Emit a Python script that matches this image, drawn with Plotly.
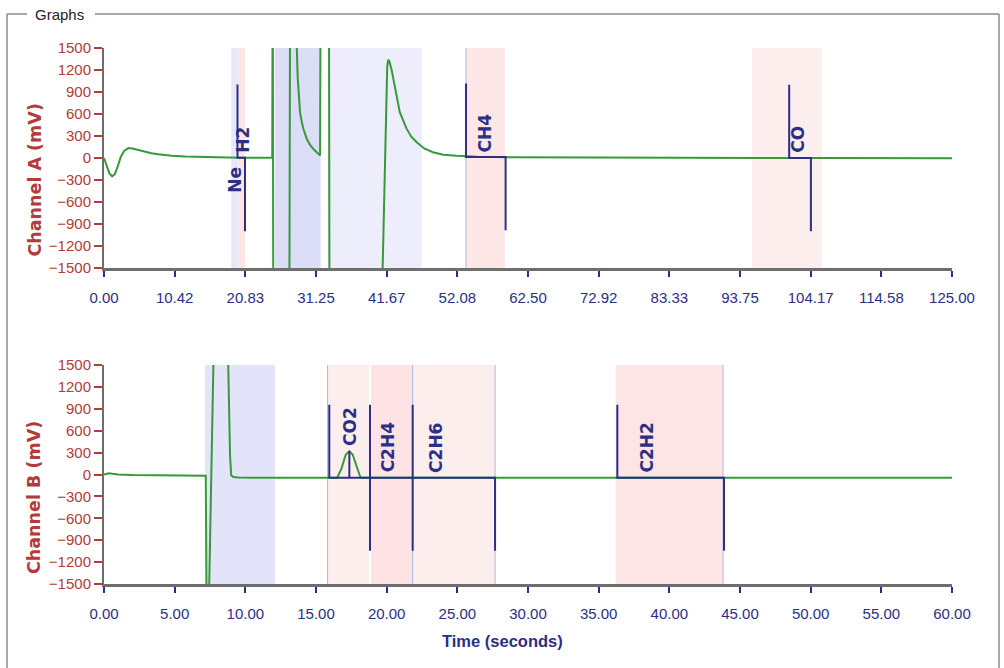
import plotly.graph_objects as go

W, H = 1004, 668

# ---------------- data ----------------
# Channel A detector signal (seconds, mV); +/-3000 = off-scale (clipped)
a_time = [0, 0.4, 0.8, 1.2, 1.6, 2.0, 2.5, 3.0, 3.6, 4.2, 5.0, 6.0, 7.0, 8.0, 9.0, 10.0,
          12.0, 14.0, 16.0, 18.0, 20.0, 22.0, 24.8, 24.87, 24.97, 27.3, 27.45, 28.35,
          28.42, 28.55, 28.7, 28.9, 29.15, 29.4, 29.9, 30.4, 30.9, 31.4, 31.85, 31.95,
          33.15, 33.25, 41.0, 41.05, 41.75, 41.9, 42.05, 42.4, 42.9, 43.6, 44.6, 45.3,
          46.1, 47.2, 48.5, 50.0, 52.0, 55.0, 60.0, 70.0, 85.0, 105.0, 125.0]
a_mv = [0, -100, -210, -250, -220, -120, 20, 100, 135, 130, 110, 85, 65, 50, 40, 32,
        22, 15, 10, 6, 4, 2, 2, 3000, -3000, -3000, 3000, 3000,
        1500, 1100, 850, 623, 490, 396, 259, 175, 118, 70, 35, 3000,
        3000, -3000, -3000, -1600, 1250, 1340, 1320, 1200, 940, 625, 400, 290,
        215, 130, 78, 45, 30, 18, 10, 5, 2, 0, -2]

# Channel B detector signal (seconds, mV)
b_time = [0, 0.15, 0.35, 0.6, 1.0, 2.0, 3.5, 5.0, 6.5, 7.2, 7.3, 7.45, 7.75, 8.78,
          8.85, 8.92, 9.0, 9.15, 9.5, 10.5, 16.5, 16.8, 17.1, 17.36, 17.6, 17.9, 18.15,
          30.0, 45.0, 60.0]
b_mv = [0, 12, 18, 10, 0, -8, -12, -15, -17, -18, -3000, -1600, 1600, 1600,
        900, 250, -10, -35, -42, -45, -45, 80, 270, 320, 270, 80, -45,
        -45, -45, -45]

# Peak tables
a_peak_names = ["Ne", "H2", "CH4", "CO"]
a_peak_start = [None, 19.68, 53.36, 101.0]
a_peak_end = [None, 20.78, 59.2, 104.2]
a_peak_rt = [19.3, 20.49, 56.16, 102.2]
a_peak_base = [2, 2, 15, 0]
a_peak_top = [2, 2, 15, 0]
a_label_side = ["below", "above", "above", "above"]

b_peak_names = ["CO2", "C2H4", "C2H6", "C2H2"]
b_peak_start = [15.94, 18.82, 21.84, 36.32]
b_peak_end = [18.82, 21.84, 27.67, 43.87]
b_peak_rt = [17.36, 20.1, 23.5, 38.4]
b_peak_base = [-45, -45, -45, -45]
b_peak_top = [320, -45, -45, -45]
b_label_side = ["above", "above", "above", "above"]

# Shaded windows (start, end, fill)
a_band_start = [18.75, 19.7, 25.2, 33.0, 53.36, 95.56]
a_band_end = [19.7, 20.8, 31.94, 46.83, 59.1, 105.8]
a_band_color = ["#e6e7fa", "#fde6e6", "#dcddf6", "#ededfc", "#fde6e6", "#fdeeee"]
a_edge_lines = [53.36]

b_band_start = [7.15, 15.82, 18.9, 21.84, 36.2]
b_band_end = [12.1, 18.75, 21.84, 27.67, 43.8]
b_band_color = ["#e3e4f9", "#fdeeee", "#fde3e3", "#fdeeee", "#fde5e5"]
b_edge_lines = [15.82, 21.84, 27.67, 43.8]

# Axis ticks
a_tick_vals = [0, 125/12, 250/12, 375/12, 500/12, 625/12, 750/12, 875/12, 1000/12,
               1125/12, 1250/12, 1375/12, 125]
a_tick_text = ["0.00", "10.42", "20.83", "31.25", "41.67", "52.08", "62.50", "72.92",
               "83.33", "93.75", "104.17", "114.58", "125.00"]
b_tick_vals = [0, 5, 10, 15, 20, 25, 30, 35, 40, 45, 50, 55, 60]
b_tick_text = ["0.00", "5.00", "10.00", "15.00", "20.00", "25.00", "30.00", "35.00",
               "40.00", "45.00", "50.00", "55.00", "60.00"]
mv_ticks = [-1500, -1200, -900, -600, -300, 0, 300, 600, 900, 1200, 1500]

# ---------------- styling ----------------
GREEN = "#37993a"
NAVY = "#2b2f86"
RED = "#b23b3b"
AXIS = "#6e6e6e"
LAV = "#b4b4de"
ARIAL = "Liberation Sans, Arial, sans-serif"
WIDE = "DejaVu Sans, Verdana, sans-serif"
TICK_AMP = 1000


def px(x):
    return x / W


def py(y):
    return 1 - y / H


fig = go.Figure()

# signal traces
fig.add_trace(go.Scatter(x=a_time, y=a_mv, mode="lines", line=dict(color=GREEN, width=2),
                         xaxis="x", yaxis="y", hoverinfo="skip"))
fig.add_trace(go.Scatter(x=b_time, y=b_mv, mode="lines", line=dict(color=GREEN, width=2),
                         xaxis="x2", yaxis="y2", hoverinfo="skip"))


def peak_marks(starts, ends, rts, bases, tops):
    xs, ys = [], []
    for s, e, rt, b, t in zip(starts, ends, rts, bases, tops):
        if s is None:
            continue
        xs += [s, s, e, e, None]
        ys += [b + TICK_AMP, b, b, b - TICK_AMP, None]
        if t != b:
            xs += [rt, rt, None]
            ys += [b, t, None]
    return xs, ys


ax, ay = peak_marks(a_peak_start, a_peak_end, a_peak_rt, a_peak_base, a_peak_top)
bx, by = peak_marks(b_peak_start, b_peak_end, b_peak_rt, b_peak_base, b_peak_top)
fig.add_trace(go.Scatter(x=ax, y=ay, mode="lines", line=dict(color=NAVY, width=2),
                         xaxis="x", yaxis="y", hoverinfo="skip"))
fig.add_trace(go.Scatter(x=bx, y=by, mode="lines", line=dict(color=NAVY, width=2),
                         xaxis="x2", yaxis="y2", hoverinfo="skip"))

shapes = []
for xr, yr, st, en, col, edges in [("x", "y domain", a_band_start, a_band_end, a_band_color, a_edge_lines),
                                   ("x2", "y2 domain", b_band_start, b_band_end, b_band_color, b_edge_lines)]:
    for s, e, c in zip(st, en, col):
        shapes.append(dict(type="rect", xref=xr, yref=yr, x0=s, x1=e, y0=0, y1=1,
                           fillcolor=c, line=dict(width=0), layer="below"))
    for s in edges:
        shapes.append(dict(type="line", xref=xr, yref=yr, x0=s, x1=s, y0=0, y1=1,
                           line=dict(color=LAV, width=1), layer="below"))

# "Graphs" group-box frame
FRAME = "#8a8a8a"
for (x0, y0, x1, y1) in [(7, 14, 27, 14), (95, 14, 999, 14), (7, 14, 7, 668), (999, 14, 999, 668)]:
    shapes.append(dict(type="line", xref="paper", yref="paper", x0=px(x0), y0=py(y0),
                       x1=px(x1), y1=py(y1), line=dict(color=FRAME, width=1.5)))

annotations = []
for names, rts, tops, sides, xr, yr in [
        (a_peak_names, a_peak_rt, a_peak_top, a_label_side, "x", "y"),
        (b_peak_names, b_peak_rt, b_peak_top, b_label_side, "x2", "y2")]:
    for n, rt, t, side in zip(names, rts, tops, sides):
        annotations.append(dict(text=n, x=rt, y=t, xref=xr, yref=yr, textangle=-90,
                                showarrow=False, xanchor="center",
                                yanchor="bottom" if side == "above" else "top",
                                yshift=3 if side == "above" else -7,
                                font=dict(family=WIDE, size=17, color=NAVY, weight="bold")))

annotations += [
    dict(text="Channel A (mV)", x=px(34), y=py(180.5), xref="paper", yref="paper",
         textangle=-90, showarrow=False, xanchor="center", yanchor="middle",
         font=dict(family=WIDE, size=17.5, color=RED, weight="bold")),
    dict(text="Channel B (mV)", x=px(34), y=py(498), xref="paper", yref="paper",
         textangle=-90, showarrow=False, xanchor="center", yanchor="middle",
         font=dict(family=WIDE, size=17.5, color=RED, weight="bold")),
    dict(text="Time (seconds)", x=px(502), y=py(641), xref="paper", yref="paper",
         showarrow=False, xanchor="center", yanchor="middle",
         font=dict(family=ARIAL, size=16.5, color=NAVY, weight="bold")),
    dict(text="Graphs", x=px(33), y=py(14), xref="paper", yref="paper",
         showarrow=False, xanchor="left", yanchor="middle",
         font=dict(family=ARIAL, size=15, color="#222222")),
]


def xaxis_style(vals, text, rng, anchor):
    return dict(domain=[px(104), px(952)], range=rng, anchor=anchor, tickmode="array",
                tickvals=vals, ticktext=text, ticks="outside", ticklen=6, tickwidth=2,
                tickcolor=NAVY, tickfont=dict(family=ARIAL, size=15, color=NAVY),
                showline=True, linecolor=AXIS, linewidth=3, showgrid=False,
                zeroline=False, ticklabelstandoff=8, fixedrange=True, automargin=False)


def yaxis_style(dom, anchor):
    return dict(domain=dom, range=[-1500, 1500], anchor=anchor, tickmode="array",
                tickvals=mv_ticks, ticks="outside", ticklen=8, tickwidth=2,
                tickcolor=RED, tickfont=dict(family=ARIAL, size=15, color=RED),
                showline=True, linecolor=AXIS, linewidth=2, showgrid=False,
                zeroline=False, fixedrange=True, automargin=False)


fig.update_layout(
    width=W, height=H, margin=dict(l=0, r=0, t=0, b=0, autoexpand=False),
    paper_bgcolor="white", plot_bgcolor="white", showlegend=False,
    xaxis=xaxis_style(a_tick_vals, a_tick_text, [0, 125], "y"),
    yaxis=yaxis_style([py(268), py(48)], "x"),
    xaxis2=xaxis_style(b_tick_vals, b_tick_text, [0, 60], "y2"),
    yaxis2=yaxis_style([py(584), py(365)], "x2"),
    shapes=shapes, annotations=annotations,
)

fig.write_html("out.html")
